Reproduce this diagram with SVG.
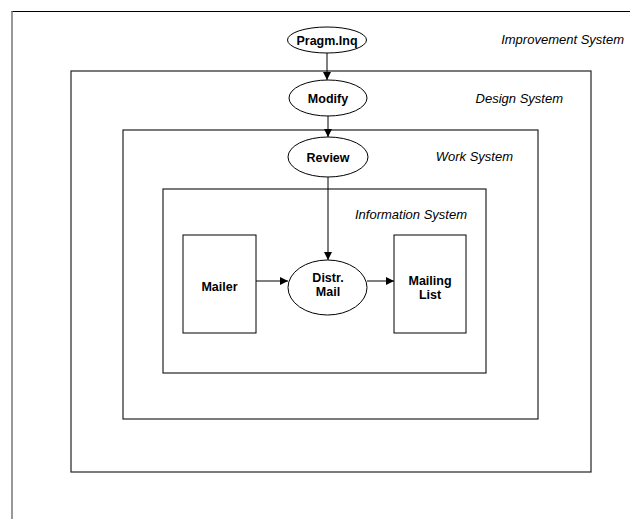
<svg xmlns="http://www.w3.org/2000/svg" width="630" height="519" viewBox="0 0 630 519">
<style>
.box{fill:none;stroke:#222;stroke-width:1.2}
.node{fill:#fff;stroke:#000;stroke-width:1}
.lbl{font-family:"Liberation Sans",Arial,sans-serif;font-size:12.5px;font-weight:bold;text-anchor:middle;fill:#000}
.sys{font-family:"Liberation Sans",Arial,sans-serif;font-size:13px;font-style:italic;fill:#000;text-anchor:end}
.edge{stroke:#000;stroke-width:1;fill:none}
</style>
<defs>
<marker id="arr" viewBox="0 0 10 10" refX="10" refY="5" markerWidth="8" markerHeight="8" markerUnits="userSpaceOnUse" orient="auto">
<path d="M0,0 L10,5 L0,10 z" fill="#000"/>
</marker>
</defs>
<g id="improvement-system">
<line x1="11.5" y1="11.5" x2="630" y2="11.5" stroke="#000" stroke-width="1.2"/>
<line x1="12" y1="11" x2="12" y2="519" stroke="#777" stroke-width="1.5"/>
<text class="sys" x="624" y="44">Improvement System</text>
</g>
<g id="design-system">
<rect class="box" x="71" y="71" width="520" height="401" stroke="#444"/>
<text class="sys" x="563" y="103">Design System</text>
</g>
<g id="work-system">
<rect class="box" x="123" y="130" width="415" height="289"/>
<text class="sys" x="513" y="161">Work System</text>
</g>
<g id="information-system">
<rect class="box" x="163" y="189" width="323" height="184"/>
<text class="sys" x="467" y="219">Information System</text>
</g>
<g id="connectors">
<line class="edge" x1="327" y1="52" x2="327" y2="80" marker-end="url(#arr)"/>
<line class="edge" x1="328" y1="116" x2="328" y2="137" marker-end="url(#arr)"/>
<line class="edge" x1="328" y1="177" x2="328" y2="260" marker-end="url(#arr)"/>
<line class="edge" x1="256" y1="281" x2="288" y2="281" marker-end="url(#arr)"/>
<line class="edge" x1="367" y1="281" x2="394" y2="281" marker-end="url(#arr)"/>
</g>
<g id="pragm-inq">
<ellipse class="node" cx="327" cy="40" rx="39.5" ry="13"/>
<text class="lbl" x="327" y="44.5" textLength="61" lengthAdjust="spacingAndGlyphs">Pragm.Inq</text>
</g>
<g id="modify">
<ellipse class="node" cx="328" cy="98" rx="39" ry="18"/>
<text class="lbl" x="328" y="102.5">Modify</text>
</g>
<g id="review">
<ellipse class="node" cx="328" cy="157" rx="40" ry="20"/>
<text class="lbl" x="328" y="161.5">Review</text>
</g>
<g id="distr-mail">
<ellipse class="node" cx="327.5" cy="287.5" rx="39.5" ry="27.5"/>
<text class="lbl" x="328" y="282">Distr.</text>
<text class="lbl" x="328" y="296">Mail</text>
</g>
<g id="mailer">
<rect class="node" x="183" y="235" width="73" height="98"/>
<text class="lbl" x="219.5" y="291">Mailer</text>
</g>
<g id="mailing-list">
<rect class="node" x="394" y="235" width="72" height="98"/>
<text class="lbl" x="430" y="285">Mailing</text>
<text class="lbl" x="430" y="299">List</text>
</g>
</svg>
